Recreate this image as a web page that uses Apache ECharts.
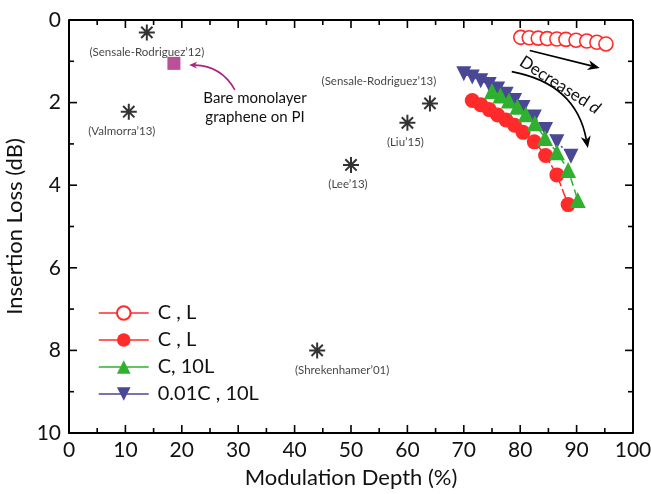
<!DOCTYPE html>
<html>
<head>
<meta charset="utf-8">
<script src="https://cdn.jsdelivr.net/npm/echarts@6/dist/echarts.min.js"></script>
<style>html,body{margin:0;padding:0;background:#fff}#c{width:651px;height:494px}</style>
</head>
<body>
<div id="c"></div>
<script>
// ---- data ----
const xTicks = [0,10,20,30,40,50,60,70,80,90,100];
const yTicks = [0,2,4,6,8,10];
const xTickMarks = [5,10,15,20,25,30,35,40,45,50,55,60,65,70,75,80,85,90,95];
const yTickMarks = [1,2,3,4,5,6,7,8,9];
const legendLabels = ['C , L', 'C , L', 'C, 10L', '0.01C , 10L'];

const openX = [80.1, 81.6, 83.2, 84.8, 86.5, 88.1, 89.9, 91.8, 93.6, 95.2];
const openY = [0.42, 0.43, 0.44, 0.45, 0.46, 0.47, 0.49, 0.51, 0.54, 0.58];

const redX = [71.5, 73, 74.5, 76, 77.5, 79, 80.5, 82.5, 84.5, 86.5, 88.5];
const redY = [1.95, 2.05, 2.17, 2.3, 2.42, 2.55, 2.72, 2.95, 3.28, 3.75, 4.47];

const greenX = [75, 76.5, 78, 79.5, 81, 82.6, 84.4, 86.5, 88.5, 90.2];
const greenY = [1.72, 1.83, 1.95, 2.1, 2.28, 2.5, 2.86, 3.2, 3.63, 4.36];

const blueX = [70, 71.5, 73, 74.5, 76, 77.5, 79, 80.5, 82.5, 84.5, 86.5, 89];
const blueY = [1.3, 1.38, 1.47, 1.56, 1.67, 1.8, 1.95, 2.12, 2.35, 2.65, 2.95, 3.3];

const refNames = ["(Sensale-Rodriguez’12)", "(Valmorra’13)", "(Sensale-Rodriguez’13)", "(Liu’15)", "(Lee’13)", "(Shrekenhamer’01)"];
const refX = [13.8, 10.6, 64, 60, 50, 44];
const refY = [0.3, 2.22, 2.02, 2.49, 3.51, 8.0];

const bareX = [18.6];
const bareY = [1.05];

// annotation arrows in data coordinates: start, end, control point
const arrowStartX = [29.4, 81.7, 78.5];
const arrowStartY = [1.69, 0.74, 1.25];
const arrowEndX   = [21.3, 94.1, 92.0];
const arrowEndY   = [1.09, 1.16, 3.1];
const arrowCtrlX  = [27.0, 87.9, 89.9];
const arrowCtrlY  = [1.11, 0.95, 1.54];

// ---- helpers ----
const zip = (xs, ys) => xs.map((x, i) => [x, ys[i]]);
const FONT = 'Lato';
const RED = '#ff2b2b', GREEN = '#2fb12f', BLUE = '#4a4795', MAG = '#a8247f';
const arrowColors = [MAG, '#000', '#000'];
const arrowHead = [8, 12, 12];
const X0 = 0, X1 = 100, Y0 = 0, Y1 = 10;

const refLabelPos = [
  {position: 'bottom', offset: [0, -2]},
  {position: 'bottom', offset: [-7, -2]},
  {position: 'top', offset: [-51, -1]},
  {position: 'bottom', offset: [-2, -2]},
  {position: 'bottom', offset: [-3, -2]},
  {position: 'bottom', offset: [25, -2]}
];

const asterisk = 'path://M0,-10L0,10M-10,0L10,0M-7.07,-7.07L7.07,7.07M-7.07,7.07L7.07,-7.07';

const chart = echarts.init(document.getElementById('c'));
const axisCommon = () => ({
  axisLine: {show: true, onZero: false, lineStyle: {color: '#000', width: 2}},
  axisTick: {show: false},
  minorTick: {show: false},
  splitLine: {show: false}
});

function seg(x0, y0, x1, y1, w) {
  return {type: 'bezierCurve',
    shape: {x1: x0, y1: y0, x2: x1, y2: y1, cpx1: (x0 + x1) / 2, cpy1: (y0 + y1) / 2},
    style: {stroke: '#000', fill: null, lineWidth: w}};
}

// frame + tick marks, from linear pixel maps taken from the chart's own scale at interior values
function frameGroup(api) {
  const a = api.coord([10, 1]), b = api.coord([90, 9]);
  const xp = v => a[0] + (v - 10) * (b[0] - a[0]) / 80;
  const yp = v => a[1] + (v - 1) * (b[1] - a[1]) / 8;
  const L = xp(X0), R = xp(X1), T = yp(Y0), B = yp(Y1);
  const kids = [seg(L, T, R, T, 2), seg(R, T, R, B, 2)];
  xTickMarks.forEach(v => {
    const len = v % 10 === 0 ? 8 : 5, x = xp(v);
    kids.push(seg(x, B, x, B - len, 1.6), seg(x, T, x, T + len, 1.6));
  });
  yTickMarks.forEach(v => {
    const len = v % 2 === 0 ? 8 : 5, y = yp(v);
    kids.push(seg(L, y, L + len, y, 1.6), seg(R, y, R - len, y, 1.6));
  });
  return {type: 'group', children: kids};
}

function annotItem(params, api) {
  const i = params.dataIndex;
  if (i >= arrowStartX.length) return frameGroup(api);
  const p0 = api.coord([api.value(0), api.value(1)]);
  const p1 = api.coord([api.value(2), api.value(3)]);
  const c = api.coord([api.value(4), api.value(5)]);
  const col = arrowColors[i];
  const h = arrowHead[i];
  let dx = p1[0] - c[0], dy = p1[1] - c[1];
  const d = Math.hypot(dx, dy); dx /= d; dy /= d;
  const nx = -dy, ny = dx;
  const w = h * 0.42;
  const base = [p1[0] - dx * h, p1[1] - dy * h];
  const notch = [p1[0] - dx * h * 0.7, p1[1] - dy * h * 0.7];
  return {type: 'group', children: [
    {type: 'bezierCurve', shape: {x1: p0[0], y1: p0[1], x2: notch[0], y2: notch[1], cpx1: c[0], cpy1: c[1]},
     style: {stroke: col, fill: null, lineWidth: 1.6}},
    {type: 'polygon', shape: {points: [p1, [base[0] + nx * w, base[1] + ny * w], notch, [base[0] - nx * w, base[1] - ny * w]]},
     style: {fill: col}}
  ]};
}

const annotRows = arrowStartX.map((x, i) => [x, arrowStartY[i], arrowEndX[i], arrowEndY[i], arrowCtrlX[i], arrowCtrlY[i]])
  .concat([[50, 5, 50, 5, 50, 5]]);

chart.setOption({
  animation: false,
  textStyle: {fontFamily: FONT},
  grid: {left: 69, right: 18, top: 20, bottom: 61, containLabel: false, outerBoundsMode: 'none'},
  legend: {
    orient: 'vertical', left: 93, top: 298, itemWidth: 50, itemHeight: 17, itemGap: 7,
    textStyle: {fontFamily: FONT, fontSize: 20, color: '#111', lineHeight: 19, padding: [0, 0, 0, 4]},
    lineStyle: {type: 'solid', width: 1.5},
    data: ['s0', 's1', 's2', 's3'],
    formatter: n => legendLabels[+n.slice(1)]
  },
  xAxis: Object.assign({
    type: 'value', min: X0, max: X1, interval: 10, position: 'bottom',
    name: 'Modulation Depth (%)', nameLocation: 'middle', nameGap: 34,
    nameTextStyle: {fontFamily: FONT, fontSize: 22, color: '#111'},
    axisLabel: {fontFamily: FONT, fontSize: 21, color: '#111', margin: 7,
      formatter: v => xTicks.includes(v) ? String(v) : ''}
  }, axisCommon()),
  yAxis: Object.assign({
    type: 'value', min: Y0, max: Y1, interval: 2, inverse: true, position: 'left',
    name: 'Insertion Loss (dB)', nameLocation: 'middle', nameGap: 29,
    nameTextStyle: {fontFamily: FONT, fontSize: 22, color: '#111'},
    axisLabel: {fontFamily: FONT, fontSize: 21, color: '#111', margin: 8,
      formatter: v => yTicks.includes(v) ? String(v) : ''}
  }, axisCommon()),
  series: [
    {
      name: 's0', type: 'line', data: zip(openX, openY),
      symbol: 'circle', symbolSize: 14, showSymbol: true,
      lineStyle: {color: RED, width: 1.2},
      itemStyle: {color: '#fff', borderColor: RED, borderWidth: 1.6},
      z: 3
    },
    {
      name: 's1', type: 'line', data: zip(redX, redY),
      symbol: 'circle', symbolSize: 15,
      lineStyle: {color: RED, width: 1.5, type: [10, 3]},
      itemStyle: {color: RED, borderWidth: 0},
      z: 3
    },
    {
      name: 's3', type: 'line', data: zip(blueX, blueY),
      symbol: 'triangle', symbolRotate: 180, symbolSize: 15,
      lineStyle: {color: BLUE, width: 1.5, type: [8, 3, 2, 3]},
      itemStyle: {color: BLUE, borderWidth: 0},
      z: 4
    },
    {
      name: 's2', type: 'line', data: zip(greenX, greenY),
      symbol: 'triangle', symbolSize: 16,
      lineStyle: {color: GREEN, width: 1.5, type: [8, 4]},
      itemStyle: {color: GREEN, borderWidth: 0},
      z: 5
    },
    {
      name: 'refs', type: 'scatter',
      data: refX.map((x, i) => ({value: [x, refY[i]], name: refNames[i], label: refLabelPos[i]})),
      symbol: asterisk, symbolSize: 16,
      itemStyle: {color: 'none', borderColor: '#000', borderWidth: 2},
      label: {show: true, formatter: p => p.name, fontFamily: FONT, fontSize: 11.5, color: '#111'},
      z: 6
    },
    {
      name: 'bare', type: 'scatter', data: zip(bareX, bareY),
      symbol: 'rect', symbolSize: 13,
      itemStyle: {color: MAG},
      z: 6
    },
    {
      name: 'arrows', type: 'custom', silent: true, clip: false, z: 7,
      data: annotRows,
      encode: {x: [0, 2, 4], y: [1, 3, 5]},
      renderItem: annotItem
    }
  ],
  graphic: [
    {type: 'text', x: 255, y: 108, silent: true,
     style: {text: 'Bare monolayer\ngraphene on PI', align: 'center', verticalAlign: 'middle',
       fontFamily: FONT, fontSize: 15, lineHeight: 19, fill: '#111'}},
    {type: 'text', x: 560, y: 85, rotation: -0.57, silent: true,
     style: {text: '{a|Decreased }{b|d}', align: 'center', verticalAlign: 'middle',
       rich: {a: {fontFamily: FONT, fontSize: 17, fill: '#111'}, b: {fontFamily: FONT, fontSize: 17, fontStyle: 'italic', fill: '#111'}}}}
  ]
});
</script>
</body>
</html>
